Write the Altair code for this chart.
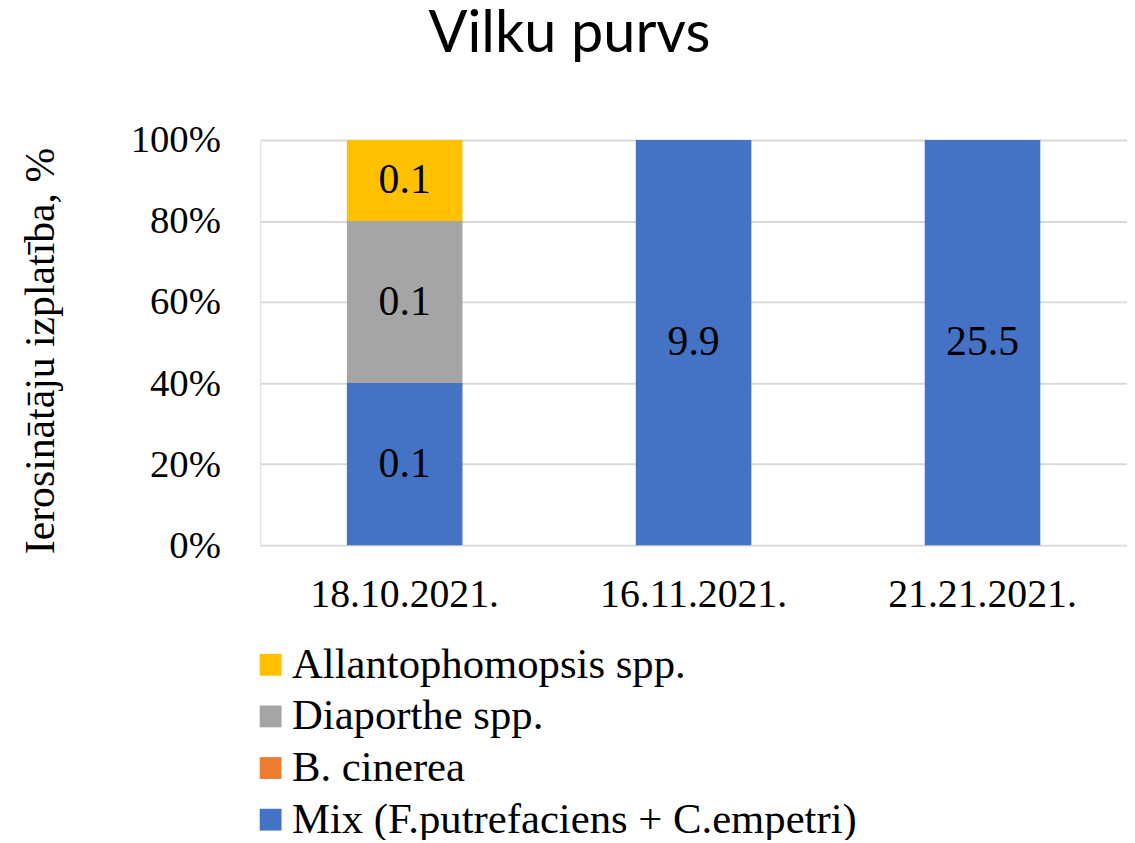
import altair as alt
import pandas as pd

dates = ["18.10.2021.", "16.11.2021.", "21.21.2021."]
series = ["Mix (F.putrefaciens + C.empetri)", "B. cinerea", "Diaporthe spp.", "Allantophomopsis spp."]

mix_vals = [0.1, 9.9, 25.5]
bcin_vals = [0.0, 0.0, 0.0]
diap_vals = [0.1, 0.0, 0.0]
allan_vals = [0.05, 0.0, 0.0]

mix_labels = ["0.1", "9.9", "25.5"]
bcin_labels = ["", "", ""]
diap_labels = ["0.1", "", ""]
allan_labels = ["0.1", "", ""]

legend_order = ["Allantophomopsis spp.", "Diaporthe spp.", "B. cinerea", "Mix (F.putrefaciens + C.empetri)"]
legend_colors = ["#FFC000", "#A5A5A5", "#ED7D31", "#4472C4"]

y_ticks = [0, 0.2, 0.4, 0.6, 0.8, 1.0]

rows = []
for rank, (name, vals, labs) in enumerate(zip(
        series,
        [mix_vals, bcin_vals, diap_vals, allan_vals],
        [mix_labels, bcin_labels, diap_labels, allan_labels])):
    for d, v, l in zip(dates, vals, labs):
        rows.append({"date": d, "series": name, "value": v, "label": l, "rank": rank})
df = pd.DataFrame(rows)

SERIF = "Liberation Serif"

base = alt.Chart(df).transform_filter(
    "datum.value > 0"
).transform_stack(
    stack="value",
    groupby=["date"],
    sort=[alt.SortField("rank", order="ascending")],
    as_=["y0", "y1"],
    offset="normalize",
).transform_calculate(mid="(datum.y0 + datum.y1) / 2")

x_enc = alt.X(
    "date:N",
    sort=dates,
    scale=alt.Scale(paddingInner=0.6, paddingOuter=0.3),
    axis=alt.Axis(
        title=None, labelAngle=0, labelFont=SERIF, labelFontSize=40,
        labelColor="black", labelPadding=30, domain=False, ticks=False,
        labelLimit=1000, labelOverlap=False,
    ),
)

bars = base.mark_bar().encode(
    x=x_enc,
    y=alt.Y(
        "y0:Q",
        scale=alt.Scale(domain=[0, 1], nice=False),
        axis=alt.Axis(
            values=y_ticks, format=".0%", title="Ierosinātāju izplatība, %",
            labelFont=SERIF, labelFontSize=39, labelColor="black", labelPadding=40,
            ticks=False, domain=False, grid=True, gridColor="#d9d9d9", gridWidth=2,
            titleFont=SERIF, titleFontSize=42, titleFontWeight="normal", titleColor="black",
            titleX=-221, titleY=212, titleBaseline="middle", titleAngle=270,
        ),
    ),
    y2="y1:Q",
    color=alt.Color(
        "series:N",
        scale=alt.Scale(domain=legend_order, range=legend_colors),
        legend=alt.Legend(
            title=None, orient="none", legendX=-11, legendY=507, direction="vertical",
            symbolType="square", symbolSize=484, symbolStrokeWidth=0,
            labelFont=SERIF, labelFontSize=43, labelColor="black", labelLimit=1000,
            labelOffset=0, rowPadding=8, padding=0,
        ),
    ),
)

texts = base.mark_text(font=SERIF, fontSize=42, color="black", baseline="middle").encode(
    x=alt.X("date:N", sort=dates),
    y=alt.Y("mid:Q"),
    text="label:N",
)

chart = alt.layer(bars, texts).properties(
    width=873,
    height=408,
    autosize=alt.AutoSizeParams(type="none"),
    padding={"left": 254, "top": 130, "right": 0, "bottom": 294},
    title=alt.Title(
        "Vilku purvs", font="Lato", fontSize=58, fontWeight="normal", color="black",
        anchor="middle", frame="group", dx=-125, offset=58,
    ),
).configure_view(stroke=None).configure(background="white")

chart.save("out.html", embed_options={"renderer": "svg", "actions": False})
